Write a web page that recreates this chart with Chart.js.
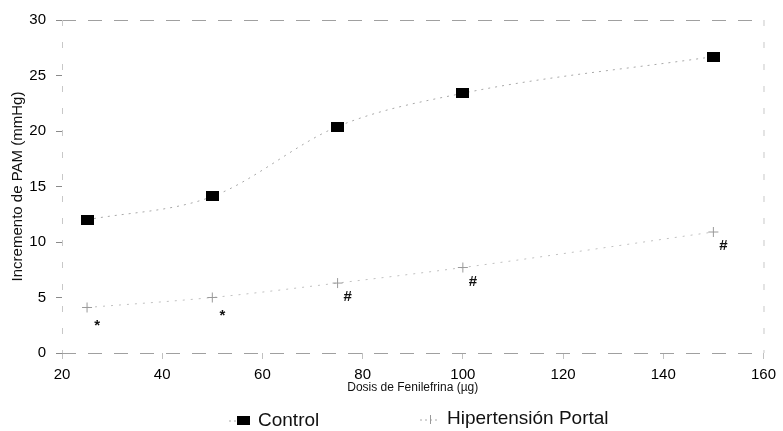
<!DOCTYPE html>
<html>
<head>
<meta charset="utf-8">
<script src="https://cdn.jsdelivr.net/npm/chart.js@4/dist/chart.umd.min.js"></script>
<style>
  html, body { margin: 0; padding: 0; background: #fff; }
  #wrap { width: 783px; height: 431px; }
</style>
</head>
<body>
<div id="wrap"><canvas id="chart" width="783" height="431"></canvas></div>
<script>
// Dosis de fenilefrina (µg)
const doses = [25, 50, 75, 100, 150];
// Incremento de PAM (mmHg)
const controlValues = [12.0, 14.1, 20.4, 23.4, 26.7];
const portalValues = [4.1, 5.0, 6.3, 7.7, 10.9];
// significance marks under the portal series
const portalMarks = ['*', '*', '#', '#', '#'];
const seriesNames = ['Control', 'Hipertensión Portal'];

const FONT = "'Liberation Sans', Arial, sans-serif";

// wide black box used as the Control marker
const boxMarker = document.createElement('canvas');
boxMarker.width = 13;
boxMarker.height = 10;
boxMarker.getContext('2d').fillRect(0, 0, 13, 10);

// frame, significance marks and legend
const extras = {
  id: 'extras',
  beforeDatasetsDraw(chart) {
    const { ctx, chartArea: a } = chart;
    ctx.save();
    ctx.lineWidth = 1;
    ctx.strokeStyle = '#a0a0a0';
    ctx.setLineDash([14, 12]);
    ctx.beginPath();
    ctx.moveTo(a.left, a.top + 0.5); ctx.lineTo(a.right, a.top + 0.5);
    ctx.moveTo(a.left, a.bottom + 0.5); ctx.lineTo(a.right, a.bottom + 0.5);
    ctx.stroke();
    ctx.strokeStyle = '#c8c8c8';
    ctx.setLineDash([6, 16]);
    ctx.beginPath();
    ctx.moveTo(a.left + 0.5, a.top); ctx.lineTo(a.left + 0.5, a.bottom);
    ctx.moveTo(a.right + 0.5, a.top); ctx.lineTo(a.right + 0.5, a.bottom);
    ctx.stroke();
    ctx.restore();
  },
  afterDraw(chart) {
    const { ctx } = chart;
    const meta = chart.getDatasetMeta(1);
    ctx.save();
    ctx.fillStyle = '#111';
    ctx.font = 'bold 15px ' + FONT;
    ctx.textAlign = 'center';
    ctx.textBaseline = 'middle';
    meta.data.forEach((pt, i) => {
      const extra = portalMarks[i] === '*' ? 4 : 0;
      ctx.fillText(portalMarks[i], pt.x + 10, pt.y + 14 + extra);
    });

    // legend
    const ly = 421;
    ctx.strokeStyle = '#aaa';
    ctx.setLineDash([2, 3]);
    ctx.beginPath();
    ctx.moveTo(229, ly); ctx.lineTo(238, ly);
    ctx.moveTo(420, ly - 1); ctx.lineTo(440, ly - 1);
    ctx.stroke();
    ctx.setLineDash([]);
    ctx.fillStyle = '#000';
    ctx.fillRect(237, ly - 5, 13, 9);
    ctx.strokeStyle = '#999';
    ctx.beginPath();
    ctx.moveTo(430.5, ly - 6); ctx.lineTo(430.5, ly + 3);
    ctx.stroke();
    ctx.font = '19px ' + FONT;
    ctx.textAlign = 'left';
    ctx.fillStyle = '#111';
    ctx.fillText(seriesNames[0], 258, ly);
    ctx.fillText(seriesNames[1], 447, ly - 2);
    ctx.restore();
  }
};

new Chart(document.getElementById('chart'), {
  type: 'line',
  data: {
    datasets: [
      {
        label: seriesNames[0],
        data: doses.map((d, i) => ({ x: d, y: controlValues[i] })),
        borderColor: '#a8a8a8',
        borderWidth: 1,
        borderDash: [2, 5],
        cubicInterpolationMode: 'monotone',
        pointStyle: boxMarker,
        pointRadius: 6
      },
      {
        label: seriesNames[1],
        data: doses.map((d, i) => ({ x: d, y: portalValues[i] })),
        borderColor: '#c0c0c0',
        borderWidth: 1,
        borderDash: [2, 6],
        cubicInterpolationMode: 'monotone',
        pointStyle: 'cross',
        pointRadius: 5,
        pointBorderColor: '#9a9a9a',
        pointBorderWidth: 1
      }
    ]
  },
  options: {
    responsive: false,
    animation: false,
    layout: { padding: { top: 20, right: 15, left: 0, bottom: 0 } },
    plugins: {
      legend: { display: false },
      tooltip: { enabled: false }
    },
    scales: {
      x: {
        type: 'linear',
        min: 20,
        max: 160,
        afterFit: s => { s.height = 78; },
        border: { display: false },
        grid: { drawOnChartArea: false, drawTicks: true, tickLength: 6, color: '#c0c0c0' },
        ticks: { stepSize: 20, padding: 7, color: '#000', font: { family: FONT, size: 15 } },
        title: {
          display: true,
          text: 'Dosis de Fenilefrina (µg)',
          color: '#111',
          font: { family: FONT, size: 12 },
          padding: { top: 0, bottom: 36 }
        }
      },
      y: {
        min: 0,
        max: 30,
        afterFit: s => { s.width = 62; },
        border: { display: false },
        grid: { drawOnChartArea: false, drawTicks: true, tickLength: 6, color: '#8a8a8a' },
        ticks: { stepSize: 5, padding: 10, color: '#000', font: { family: FONT, size: 15 } },
        title: {
          display: true,
          text: 'Incremento de PAM (mmHg)',
          color: '#111',
          font: { family: FONT, size: 15 },
          padding: { top: 9, bottom: 0 }
        }
      }
    }
  },
  plugins: [extras]
});
</script>
</body>
</html>
